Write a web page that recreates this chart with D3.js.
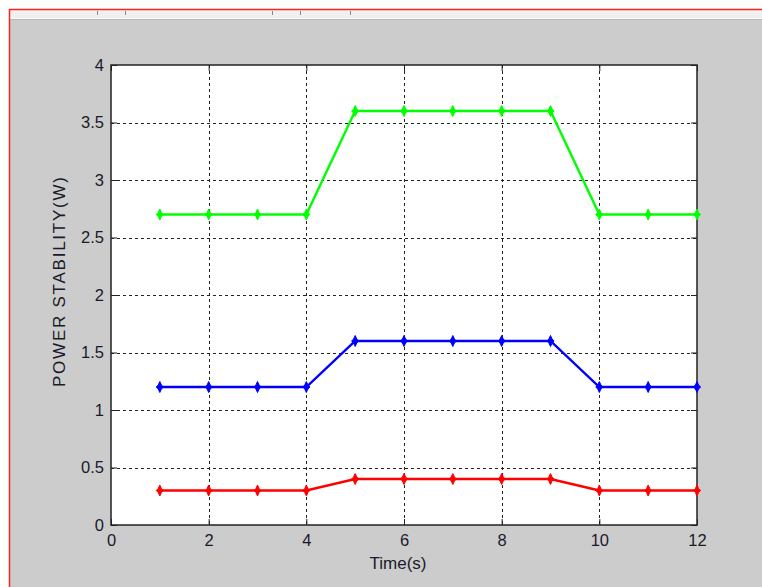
<!DOCTYPE html>
<html><head><meta charset="utf-8">
<script src="https://cdn.jsdelivr.net/npm/d3@7"></script>
<style>
html,body{margin:0;padding:0;background:#fff;}
svg{display:block;}
text{font-family:Arial,"Liberation Sans",sans-serif;}
</style></head>
<body>
<svg id="c" width="762" height="587"></svg>
<script>
const times = [1,2,3,4,5,6,7,8,9,10,11,12];
const greenSeries = [2.7,2.7,2.7,2.7,3.6,3.6,3.6,3.6,3.6,2.7,2.7,2.7];
const blueSeries  = [1.2,1.2,1.2,1.2,1.6,1.6,1.6,1.6,1.6,1.2,1.2,1.2];
const redSeries   = [0.3,0.3,0.3,0.3,0.4,0.4,0.4,0.4,0.4,0.3,0.3,0.3];
const xTicks = [0,2,4,6,8,10,12];
const yTicks = [0,0.5,1,1.5,2,2.5,3,3.5,4];
const toolbarTicks = [97,125,272,300,350];
const xLabel = "Time(s)";
const yLabel = "POWER STABILITY(W)";

const svg = d3.select("#c");
// window chrome
svg.append("rect").attr("x",9).attr("y",9).attr("width",753).attr("height",578).attr("fill","#cccccc");
svg.append("rect").attr("x",10).attr("y",10).attr("width",752).attr("height",8).attr("fill","#f0f0f0");
svg.append("line").attr("x1",10).attr("x2",762).attr("y1",19.5).attr("y2",19.5).attr("stroke","#b8b8b8");
svg.append("line").attr("x1",10).attr("x2",762).attr("y1",18.5).attr("y2",18.5).attr("stroke","#fafafa");
toolbarTicks.forEach(x=>svg.append("line").attr("x1",x+0.5).attr("x2",x+0.5).attr("y1",11).attr("y2",15).attr("stroke","#888"));
svg.append("line").attr("x1",9.5).attr("x2",762).attr("y1",9.5).attr("y2",9.5).attr("stroke","#ff2020").attr("stroke-width",1.5);
svg.append("line").attr("x1",9.5).attr("x2",9.5).attr("y1",9).attr("y2",587).attr("stroke","#ff2020").attr("stroke-width",1.5);

const L=111, R=697, T=65, B=525;
const x = d3.scaleLinear().domain([0,12]).range([L,R]);
const y = d3.scaleLinear().domain([0,4]).range([B,T]);

svg.append("rect").attr("x",L).attr("y",T).attr("width",R-L).attr("height",B-T).attr("fill","#fff");

const grid = svg.append("g").attr("stroke","#222").attr("stroke-width",1).attr("stroke-dasharray","3,3");
xTicks.slice(1,-1).forEach(v=>grid.append("line").attr("x1",Math.round(x(v))+0.5).attr("x2",Math.round(x(v))+0.5).attr("y1",T).attr("y2",B));
yTicks.slice(1,-1).forEach(v=>grid.append("line").attr("y1",Math.round(y(v))+0.5).attr("y2",Math.round(y(v))+0.5).attr("x1",L).attr("x2",R));

function styleAxis(g){
  g.select(".domain").remove();
  g.selectAll("line").attr("stroke","#222");
  g.selectAll("text").attr("fill","#1a1a2a").style("font-size","16.5px").style("font-family","Arial,'Liberation Sans',sans-serif");
}
const fmt = d=>String(d);
svg.append("g").attr("transform",`translate(0,${B})`).call(d3.axisBottom(x).tickValues(xTicks).tickFormat(fmt).tickSizeInner(-6).tickSizeOuter(0).tickPadding(9)).call(styleAxis);
svg.append("g").attr("transform",`translate(${L},0)`).call(d3.axisLeft(y).tickValues(yTicks).tickFormat(fmt).tickSizeInner(-6).tickSizeOuter(0).tickPadding(7)).call(styleAxis);
svg.append("g").attr("transform",`translate(0,${T})`).call(d3.axisTop(x).tickValues(xTicks).tickFormat("").tickSizeInner(-6).tickSizeOuter(0)).call(styleAxis);
svg.append("g").attr("transform",`translate(${R},0)`).call(d3.axisRight(y).tickValues(yTicks).tickFormat("").tickSizeInner(-6).tickSizeOuter(0)).call(styleAxis);
svg.append("rect").attr("x",L).attr("y",T).attr("width",R-L).attr("height",B-T).attr("fill","none").attr("stroke","#222").attr("stroke-width",1.5);

const series = [[greenSeries,"#00ff00"],[blueSeries,"#0000ff"],[redSeries,"#ff0000"]];
const line = d3.line().x((d,i)=>x(times[i])).y(d=>y(d));
const marker = "M0,-5.5L1.6,-2L3.6,0L1.6,2L0,5.5L-1.6,2L-3.6,0L-1.6,-2Z";
series.forEach(([vals,col])=>{
  svg.append("path").datum(vals).attr("d",line).attr("fill","none").attr("stroke",col).attr("stroke-width",2.4);
  svg.append("g").selectAll("path").data(vals).join("path")
    .attr("transform",(d,i)=>`translate(${x(times[i])},${y(d)})`)
    .attr("d",marker).attr("fill",col).attr("stroke",col).attr("stroke-width",1);
});

svg.append("text").attr("x",398).attr("y",569).attr("text-anchor","middle").style("font-size","17px").attr("fill","#1a1a2a").text(xLabel);
svg.append("text").attr("transform",`translate(65,282) rotate(-90)`).attr("text-anchor","middle").style("font-size","17px")
  .attr("textLength",210).attr("lengthAdjust","spacing").attr("fill","#1a1a2a").text(yLabel);
</script>
</body></html>
